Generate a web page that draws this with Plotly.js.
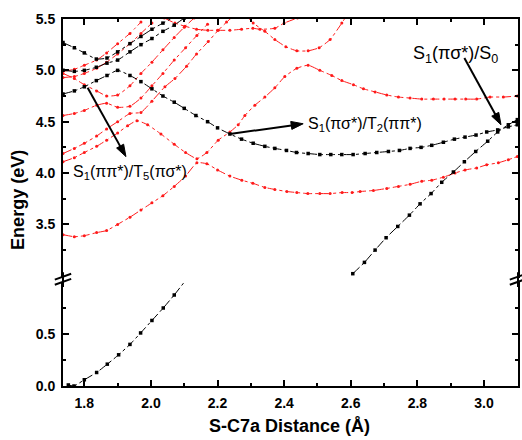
<!DOCTYPE html>
<html>
<head>
<meta charset="utf-8">
<script src="https://cdn.plot.ly/plotly-3.0.1.min.js"></script>
<style>html,body{margin:0;padding:0;background:#fff;}#plot{width:522px;height:440px;}</style>
</head>
<body>
<div id="plot"></div>
<script>
// S-C7a scan: singlet (black) and triplet (red) potential energy curves, eV

// S0 ground state, near minimum (lower panel)
const s0NearX = [1.752, 1.769, 1.800, 1.837, 1.869, 1.903, 1.937, 1.969, 2.003, 2.037, 2.070];
const s0NearE = [0.01, 0.00, 0.06, 0.13, 0.21, 0.30, 0.40, 0.51, 0.63, 0.75, 0.875];
// fitted line continuing past the last S0 point
const s0TailX = [2.070, 2.098];
const s0TailE = [0.875, 0.99];

// S0 at long S-C7a distance (upper panel)
const s0FarX = [2.606, 2.641, 2.673, 2.706, 2.741, 2.776, 2.808, 2.841, 2.873, 2.908, 2.941, 2.975, 3.011, 3.041, 3.073, 3.100];
const s0FarE = [3.02, 3.13, 3.25, 3.37, 3.48, 3.59, 3.70, 3.80, 3.91, 4.01, 4.11, 4.21, 4.31, 4.40, 4.47, 4.52];

// S1
const s1X = [1.736, 1.770, 1.800, 1.836, 1.868, 1.900, 1.937, 1.970, 2.003, 2.036, 2.070, 2.100, 2.135, 2.170, 2.200, 2.237, 2.272, 2.307, 2.342, 2.372, 2.407, 2.437, 2.472, 2.507, 2.540, 2.573, 2.607, 2.643, 2.678, 2.713, 2.746, 2.778, 2.811, 2.843, 2.878, 2.911, 2.943, 2.976, 3.008, 3.041, 3.073, 3.100];
const s1E = [4.77, 4.80, 4.84, 4.90, 4.95, 5.00, 4.95, 4.89, 4.82, 4.75, 4.69, 4.63, 4.56, 4.50, 4.44, 4.38, 4.33, 4.29, 4.26, 4.24, 4.22, 4.20, 4.19, 4.18, 4.18, 4.18, 4.18, 4.19, 4.20, 4.21, 4.22, 4.24, 4.25, 4.27, 4.30, 4.33, 4.35, 4.37, 4.40, 4.42, 4.45, 4.47];

// S2
const s2X = [1.736, 1.770, 1.800, 1.836, 1.868, 1.900, 1.937, 1.970, 2.003, 2.036, 2.070, 2.100];
const s2E = [5.00, 4.99, 5.00, 5.03, 5.07, 5.10, 5.18, 5.25, 5.31, 5.38, 5.44, 5.51];

// S3
const s3X = [1.736, 1.770, 1.800, 1.836, 1.868, 1.900, 1.937, 1.970, 2.003, 2.036, 2.070];
const s3E = [5.27, 5.22, 5.17, 5.11, 5.12, 5.18, 5.26, 5.33, 5.40, 5.46, 5.52];

// T1
const t1X = [1.736, 1.770, 1.800, 1.837, 1.867, 1.900, 1.937, 1.970, 2.003, 2.036, 2.070, 2.104, 2.138, 2.168, 2.200, 2.237, 2.273, 2.306, 2.342, 2.372, 2.408, 2.438, 2.471, 2.507, 2.538, 2.574, 2.604, 2.628, 2.668, 2.708, 2.743, 2.778, 2.813, 2.843, 2.878, 2.913, 2.943, 2.978, 3.008, 3.043, 3.073, 3.100];
const t1E = [3.40, 3.38, 3.39, 3.42, 3.44, 3.50, 3.57, 3.64, 3.71, 3.78, 3.87, 3.97, 4.10, 4.09, 4.03, 3.97, 3.93, 3.90, 3.86, 3.84, 3.82, 3.81, 3.80, 3.80, 3.80, 3.81, 3.81, 3.82, 3.83, 3.85, 3.87, 3.89, 3.92, 3.93, 3.96, 4.00, 4.03, 4.05, 4.08, 4.10, 4.13, 4.16];

// T2
const t2X = [1.736, 1.770, 1.800, 1.837, 1.867, 1.900, 1.930, 1.958, 1.990, 2.030, 2.070, 2.104, 2.138, 2.168, 2.202, 2.237, 2.262, 2.282, 2.312, 2.342, 2.372, 2.402, 2.438, 2.472, 2.507, 2.543, 2.573, 2.608, 2.638, 2.673, 2.708, 2.743, 2.778, 2.813, 2.848, 2.880, 2.913, 2.945, 2.978, 3.018, 3.058, 3.100];
const t2E = [4.11, 4.15, 4.20, 4.26, 4.32, 4.39, 4.46, 4.51, 4.47, 4.38, 4.28, 4.20, 4.14, 4.20, 4.32, 4.40, 4.47, 4.56, 4.66, 4.74, 4.83, 4.94, 5.02, 5.05, 5.00, 4.95, 4.90, 4.86, 4.82, 4.79, 4.76, 4.74, 4.73, 4.72, 4.72, 4.72, 4.72, 4.72, 4.72, 4.74, 4.74, 4.75];

// T3
const t3X = [1.736, 1.770, 1.800, 1.837, 1.867, 1.900, 1.937, 1.970, 2.003, 2.042, 2.072, 2.107, 2.137, 2.172, 2.202, 2.227, 2.245];
const t3E = [4.19, 4.24, 4.29, 4.36, 4.43, 4.50, 4.58, 4.59, 4.70, 4.84, 4.92, 5.04, 5.16, 5.28, 5.39, 5.47, 5.52];

// T4
const t4X = [1.736, 1.770, 1.800, 1.837, 1.867, 1.900, 1.937, 1.970, 2.003, 2.036, 2.070, 2.104, 2.138, 2.170];
const t4E = [4.56, 4.58, 4.61, 4.66, 4.68, 4.64, 4.65, 4.73, 4.85, 4.97, 5.10, 5.22, 5.34, 5.45];

// T5
const t5X = [1.736, 1.770, 1.800, 1.837, 1.867, 1.900, 1.937, 1.970, 2.003, 2.036, 2.070, 2.100, 2.130];
const t5E = [4.97, 4.92, 4.86, 4.80, 4.75, 4.76, 4.85, 4.97, 5.08, 5.20, 5.32, 5.42, 5.51];

// T6
const t6X = [1.736, 1.770, 1.800, 1.837, 1.867, 1.900, 1.937, 1.970, 2.003];
const t6E = [4.93, 4.94, 4.97, 5.02, 5.08, 5.16, 5.26, 5.36, 5.46];

// T7
const t7X = [1.736, 1.770, 1.800, 1.837, 1.867, 1.900, 1.937, 1.970];
const t7E = [4.99, 5.01, 5.05, 5.10, 5.17, 5.26, 5.36, 5.47];

// T8 (upper branch near the top edge)
const t8X = [2.040, 2.072, 2.102, 2.137, 2.171, 2.200, 2.237, 2.272, 2.306, 2.327, 2.372, 2.400, 2.440];
const t8E = [5.51, 5.46, 5.43, 5.40, 5.39, 5.39, 5.39, 5.40, 5.41, 5.40, 5.41, 5.46, 5.51];

// T9 (valley near 2.45)
const t9X = [2.290, 2.307, 2.342, 2.372, 2.405, 2.438, 2.472, 2.505, 2.538, 2.573, 2.585];
const t9E = [5.52, 5.46, 5.38, 5.30, 5.23, 5.19, 5.19, 5.22, 5.30, 5.46, 5.52];

// annotation arrows: [tail x, tail E, head x, head E]
const arrowT5 = [1.81, 4.83, 1.925, 4.16];
const arrowT2 = [2.237, 4.38, 2.457, 4.48];
const arrowS0 = [2.941, 5.12, 3.051, 4.47];

const BLACK = '#000000';
const RED = '#ff1a1a';

function curve(x, y, color, yaxis, xaxis, mode) {
  const isBlack = color === BLACK;
  return {
    x: x, y: y, xaxis: xaxis, yaxis: yaxis,
    type: 'scatter', mode: mode || 'lines+markers',
    line: {color: color, width: 1, dash: 'dashdot', shape: 'spline', smoothing: 0.5},
    marker: {color: color, size: isBlack ? 3.5 : 3, symbol: isBlack ? 'square' : 'circle'},
    hoverinfo: 'skip', showlegend: false
  };
}

const traces = [
  curve(s0NearX, s0NearE, BLACK, 'y', 'x'),
  curve(s0TailX, s0TailE, BLACK, 'y', 'x', 'lines'),
  curve(t1X, t1E, RED, 'y2', 'x2'),
  curve(t2X, t2E, RED, 'y2', 'x2'),
  curve(t3X, t3E, RED, 'y2', 'x2'),
  curve(t4X, t4E, RED, 'y2', 'x2'),
  curve(t5X, t5E, RED, 'y2', 'x2'),
  curve(t6X, t6E, RED, 'y2', 'x2'),
  curve(t7X, t7E, RED, 'y2', 'x2'),
  curve(t8X, t8E, RED, 'y2', 'x2'),
  curve(t9X, t9E, RED, 'y2', 'x2'),
  curve(s1X, s1E, BLACK, 'y2', 'x2'),
  curve(s2X, s2E, BLACK, 'y2', 'x2'),
  curve(s3X, s3E, BLACK, 'y2', 'x2'),
  curve(s0FarX, s0FarE, BLACK, 'y2', 'x2')
];

const xTicks = [1.8, 2.0, 2.2, 2.4, 2.6, 2.8, 3.0];
const xMinor = [1.9, 2.1, 2.3, 2.5, 2.7, 2.9, 3.1];
const lowTicks = [0.0, 0.5];
const lowMinor = [0.25, 0.75];
const upTicks = [3.5, 4.0, 4.5, 5.0, 5.5];
const upMinor = [3.25, 3.75, 4.25, 4.75, 5.25];

const FAMILY = 'Liberation Sans, Arial, sans-serif';
const tickFont = {family: FAMILY, size: 14, color: '#000', weight: 'bold'};
const labelFont = {family: FAMILY, size: 18, color: '#000', weight: 'bold'};
const noteFont = {family: FAMILY, size: 16, color: '#000'};

const xRange = [1.736, 3.102];
const upRange = [2.977, 5.5];
const splitLow = 0.2834, splitUp = 0.294;
const plotW = 455, plotH = 367;

function axisBase() {
  return {
    showgrid: false, zeroline: false, showline: true, linecolor: '#000', linewidth: 2,
    ticks: 'inside', ticklen: 6, tickwidth: 2, tickcolor: '#000',
    tickfont: tickFont, tickformat: '.1f', ticklabelstandoff: 3
  };
}
function minorTicks(vals) {
  return {tickmode: 'array', tickvals: vals, ticklen: 3, tickwidth: 2, ticks: 'inside', tickcolor: '#000'};
}

// arrow drawn as a shaft plus a filled head, sized in pixels on the upper panel
function arrowShapes(a) {
  const sx = plotW / (xRange[1] - xRange[0]);
  const sy = plotH * (1 - splitUp) / (upRange[1] - upRange[0]);
  const [x0, y0, x1, y1] = a;
  const dx = (x1 - x0) * sx, dy = (y1 - y0) * sy;
  const len = Math.hypot(dx, dy);
  const ux = dx / len, uy = dy / len;
  const headL = 12, headW = 4;
  const bx = dx - ux * headL, by = dy - uy * headL;
  const px = -uy, py = ux;
  const pt = (X, Y) => (x0 + X / sx) + ',' + (y0 + Y / sy);
  return [
    {type: 'line', xref: 'x2', yref: 'y2', x0: x0, y0: y0, x1: x0 + (bx + ux * 2) / sx, y1: y0 + (by + uy * 2) / sy,
     line: {color: '#000', width: 2}},
    {type: 'path', xref: 'x2', yref: 'y2',
     path: 'M' + pt(dx, dy) + ' L' + pt(bx + px * headW, by + py * headW) + ' L' + pt(bx - px * headW, by - py * headW) + ' Z',
     fillcolor: '#000', line: {color: '#000', width: 1}}
  ];
}

const layout = {
  width: 522, height: 440,
  margin: {l: 63, r: 4, t: 19, b: 54},
  paper_bgcolor: '#fff', plot_bgcolor: '#fff',
  showlegend: false,
  xaxis: Object.assign(axisBase(), {
    range: xRange, anchor: 'y', tickmode: 'array', tickvals: xTicks, minor: minorTicks(xMinor)
  }),
  xaxis2: Object.assign(axisBase(), {
    range: xRange, anchor: 'y2', side: 'top', matches: 'x', showticklabels: false,
    tickmode: 'array', tickvals: xTicks, minor: minorTicks(xMinor)
  }),
  yaxis: Object.assign(axisBase(), {
    domain: [0, splitLow], range: [0, 1.0], anchor: 'x', mirror: 'ticks',
    tickmode: 'array', tickvals: lowTicks, minor: minorTicks(lowMinor)
  }),
  yaxis2: Object.assign(axisBase(), {
    domain: [splitUp, 1], range: upRange, anchor: 'x2', mirror: 'ticks',
    tickmode: 'array', tickvals: upTicks, minor: minorTicks(upMinor)
  }),
  annotations: [
    {xref: 'paper', yref: 'paper', x: 0.497, y: 0, yshift: -40, text: 'S-C7a Distance (Å)',
     showarrow: false, font: labelFont, xanchor: 'center', yanchor: 'middle'},
    {xref: 'paper', yref: 'paper', x: -0.099, y: 0.507, text: 'Energy (eV)', textangle: -90,
     showarrow: false, font: labelFont, xanchor: 'center', yanchor: 'middle'},
    // state-crossing labels
    {xref: 'x2', yref: 'y2', x: 1.76, y: 4.01, text: 'S<sub>1</sub>(ππ*)/T<sub>5</sub>(πσ*)',
     showarrow: false, font: noteFont, xanchor: 'left', yanchor: 'middle'},
    {xref: 'x2', yref: 'y2', x: 2.465, y: 4.47, text: 'S<sub>1</sub>(πσ*)/T<sub>2</sub>(ππ*)',
     showarrow: false, font: noteFont, xanchor: 'left', yanchor: 'middle'},
    {xref: 'x2', yref: 'y2', x: 2.78, y: 5.15, text: 'S<sub>1</sub>(πσ*)/S<sub>0</sub>',
     showarrow: false, font: {family: FAMILY, size: 18, color: '#000'}, xanchor: 'left', yanchor: 'middle'}
  ],
  shapes: [
    // continuous frame sides across the axis break
    {type: 'line', xref: 'paper', yref: 'paper', x0: 0, x1: 0, y0: 0.27, y1: 0.31, line: {color: '#000', width: 2}},
    {type: 'line', xref: 'paper', yref: 'paper', x0: 1, x1: 1, y0: 0.27, y1: 0.31, line: {color: '#000', width: 2}},
    // break marks
    {type: 'line', xref: 'paper', yref: 'paper', x0: -0.018, x1: 0.018, y0: 0.290, y1: 0.306, line: {color: '#000', width: 2}},
    {type: 'line', xref: 'paper', yref: 'paper', x0: -0.018, x1: 0.018, y0: 0.276, y1: 0.292, line: {color: '#000', width: 2}},
    {type: 'line', xref: 'paper', yref: 'paper', x0: 0.982, x1: 1.018, y0: 0.290, y1: 0.306, line: {color: '#000', width: 2}},
    {type: 'line', xref: 'paper', yref: 'paper', x0: 0.982, x1: 1.018, y0: 0.276, y1: 0.292, line: {color: '#000', width: 2}}
  ].concat(arrowShapes(arrowT5), arrowShapes(arrowT2), arrowShapes(arrowS0))
};

Plotly.newPlot('plot', traces, layout, {staticPlot: true, displayModeBar: false});
</script>
</body>
</html>
